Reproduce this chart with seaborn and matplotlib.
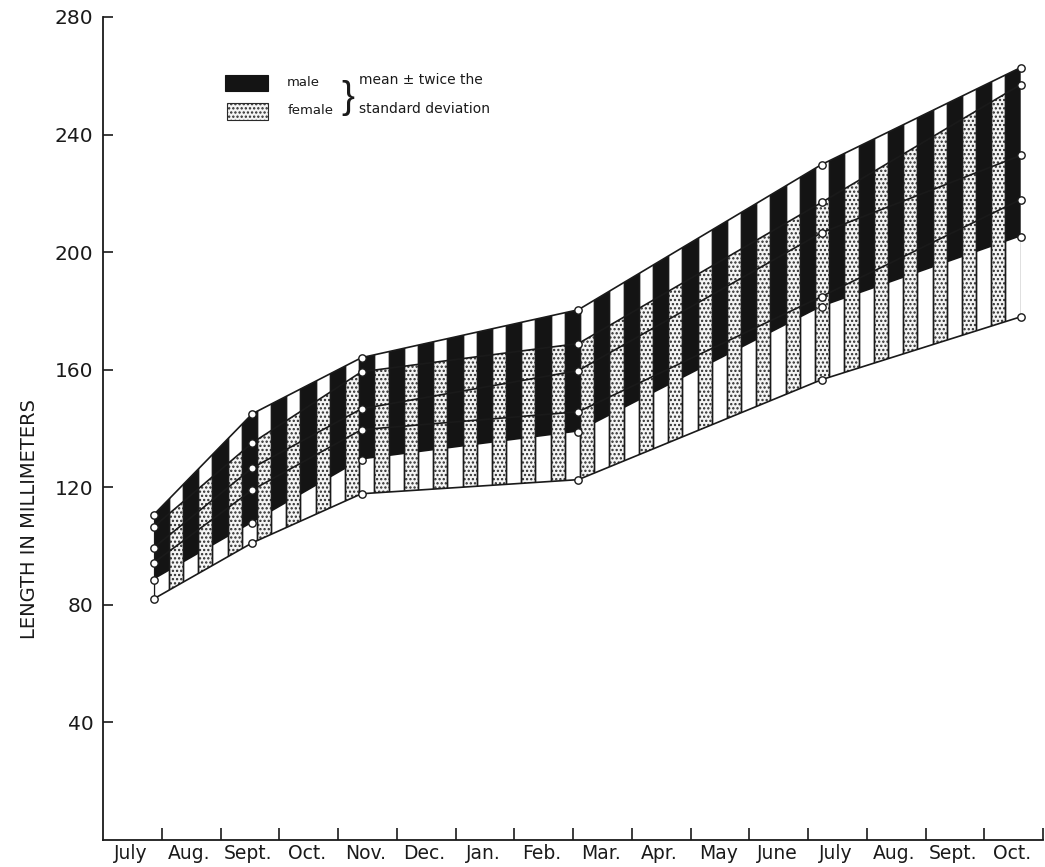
import numpy as np
import pandas as pd
import matplotlib
matplotlib.use("Agg")
import matplotlib.pyplot as plt
from matplotlib.patches import Polygon, Rectangle
import seaborn as sns

# ---- data -------------------------------------------------------------
month_labels = ['July', 'Aug.', 'Sept.', 'Oct.', 'Nov.', 'Dec.', 'Jan.', 'Feb.',
                'Mar.', 'Apr.', 'May', 'June', 'July', 'Aug.', 'Sept.', 'Oct.']
# sampling dates, in months from the start of the first July
sample_month = [0.86, 2.54, 4.40, 8.09, 12.23, 15.62]

# mean and mean +/- twice the standard deviation (mm)
male_high = [110.6, 145.0, 164.1, 180.4, 229.8, 262.8]
male_mean = [99.4, 126.6, 146.7, 159.7, 206.6, 232.9]
male_low = [88.5, 107.9, 129.4, 138.9, 181.4, 205.3]
female_high = [106.5, 135.1, 159.3, 168.9, 216.9, 257.0]
female_mean = [94.3, 119.1, 139.6, 145.7, 184.9, 217.9]
female_low = [82.0, 101.1, 117.8, 122.6, 156.6, 178.0]

y_ticks = [40, 80, 120, 160, 200, 240, 280]

# ---- style ------------------------------------------------------------
sns.set_style("ticks")
plt.rcParams['font.family'] = ['DejaVu Sans']
plt.rcParams['hatch.linewidth'] = 1.1

INK = '#1a1a1a'

fig = plt.figure(figsize=(10.45, 8.67), dpi=100)
ax = fig.add_axes([103 / 1045, 27 / 867, 940 / 1045, 823 / 867])
ax.set_xlim(0, 16)
ax.set_ylim(0, 280)

x = np.asarray(sample_month)


def band(lo, hi):
    """Closed polygon between two series, in data coordinates."""
    verts = np.column_stack([np.r_[x, x[::-1]],
                             np.r_[np.asarray(hi), np.asarray(lo)[::-1]]])
    return Polygon(verts, closed=True, transform=ax.transData)


male_band = band(male_low, male_high)
female_band = band(female_low, female_high)
envelope = band(female_low, male_high)

# alternating strips: a black (male) and a stippled (female) one every half month
period = 0.5
black_w = 0.26
n_pairs = 30
black_x = x[0] + period * np.arange(n_pairs)
stip_x = black_x[:-1] + black_w
stip_w = period - black_w

bars_m = ax.bar(black_x, 280, width=black_w, align='edge', color='#141414',
                linewidth=0, zorder=2)
for p in bars_m:
    p.set_clip_path(male_band)

bars_f = ax.bar(stip_x, 280, width=stip_w, align='edge', facecolor='#f4f4f4',
                edgecolor='#2a2a2a', hatch='....', linewidth=0, zorder=2)
for p in bars_f:
    p.set_clip_path(female_band)

# strip outlines inside the overall envelope
all_x = np.r_[black_x, stip_x]
all_w = np.r_[np.full(len(black_x), black_w), np.full(len(stip_x), stip_w)]
outl = ax.bar(all_x, 280, width=all_w, align='edge', facecolor='none',
              edgecolor=INK, linewidth=1.0, zorder=2.5)
for p in outl:
    p.set_clip_path(envelope)

# limit and mean lines
for ys in (male_high, female_low, female_high, male_mean, female_mean):
    sns.lineplot(x=x, y=ys, ax=ax, color=INK, linewidth=1.2,
                 errorbar=None, legend=False, zorder=3)

# sample points
for ys in (male_high, female_high, male_mean, female_mean, male_low, female_low):
    sns.scatterplot(x=x, y=ys, ax=ax, s=28, facecolor='white',
                    edgecolor=INK, linewidth=1.0, zorder=4, legend=False)

# ---- axes -------------------------------------------------------------
sns.despine(ax=ax)
for s in ('left', 'bottom'):
    ax.spines[s].set_linewidth(1.3)
    ax.spines[s].set_color(INK)

ax.set_yticks(y_ticks)
ax.set_yticklabels([str(v) for v in y_ticks])
ax.tick_params(axis='y', direction='in', length=7, width=1.2, labelsize=14.5,
               pad=7, colors=INK)

ax.set_xticks(np.arange(1, 17))
ax.set_xticklabels([])
ax.tick_params(axis='x', which='major', direction='in', length=9, width=1.2,
               colors=INK)
ax.set_xticks(np.arange(16) + 0.47, minor=True)
ax.set_xticklabels(month_labels, minor=True)
ax.tick_params(axis='x', which='minor', length=0, labelsize=13.5, pad=3,
               colors=INK)

ax.set_ylabel('LENGTH IN MILLIMETERS', fontsize=14, color=INK)
ax.yaxis.set_label_coords(-0.068, 0.39)

# ---- key --------------------------------------------------------------
T = ax.transAxes
ax.add_patch(Rectangle((0.130, 0.910), 0.046, 0.019, transform=T,
                       facecolor='#141414', edgecolor='#141414', lw=0.8))
ax.add_patch(Rectangle((0.132, 0.875), 0.044, 0.020, transform=T,
                       facecolor='#f4f4f4', edgecolor='#2a2a2a', hatch='....',
                       lw=0.8))
ax.text(0.196, 0.920, 'male', transform=T, fontsize=9.5, va='center',
        color=INK)
ax.text(0.196, 0.886, 'female', transform=T, fontsize=9.5, va='center',
        color=INK)
ax.text(0.260, 0.901, '}', transform=T, fontsize=28, va='center',
        ha='center', color=INK, family=['Liberation Sans'])
ax.text(0.272, 0.923, 'mean \u00b1 twice the', transform=T, fontsize=10,
        va='center', color=INK)
ax.text(0.272, 0.888, 'standard deviation', transform=T, fontsize=10,
        va='center', color=INK)

fig.savefig('out.png', dpi=100, facecolor='white')
